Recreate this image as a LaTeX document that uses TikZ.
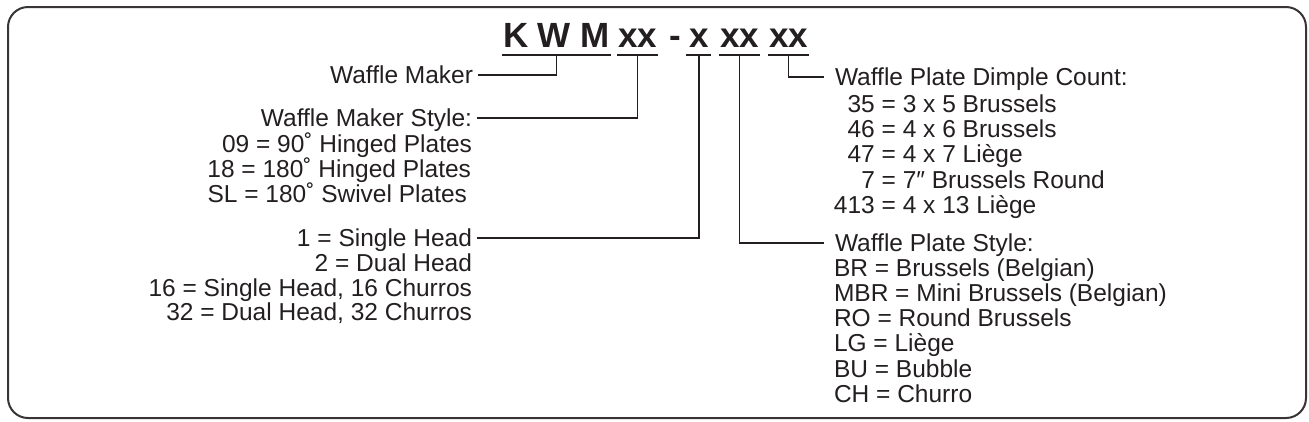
\documentclass[tikz,border=0pt]{standalone}
\usepackage{fontspec}
\setmainfont{Liberation Sans}
\definecolor{ink}{HTML}{231F20}
\newcommand\dnum[1]{\makebox[1.668em][r]{#1}}
\begin{document}
\begin{tikzpicture}[x=1pt,y=-1pt,
  every node/.style={inner sep=0pt, outer sep=0pt, text=ink, font=\fontsize{24.5}{25}\selectfont},
  title/.style={font=\bfseries\fontsize{35}{35}\selectfont, anchor=base west},
  conn/.style={draw=ink, line width=1.9pt},
  lhead/.style={inner xsep=5pt, text height=17.5pt, text depth=0pt, anchor=east},
  rhead/.style={inner xsep=11pt, text height=17.5pt, text depth=0pt, anchor=west},
  litem/.style={anchor=base east},
  ritem/.style={anchor=base west}]
\useasboundingbox (0,0) rectangle (1309,421);
\draw[draw=ink!90, line width=2pt, rounded corners=20pt] (8,7) rectangle (1306,418);
% title
\node[title] (kwm) at (503,47) {K W M};
\node[title] (xxa) at (618,47) {xx};
\node[title] (dash) at (669,47) {-};
\node[title] (xb) at (689,47) {x};
\node[title] (xxc) at (720,47) {xx};
\node[title] (xxd) at (769,47) {xx};
\foreach \n/\p in {kwm/1,xxa/1,xb/3,xxc/1,xxd/1}
  \draw[conn] ([xshift=-\p pt,yshift=-8pt]\n.base west) -- ([xshift=\p pt,yshift=-8pt]\n.base east);
% left labels
\node[lhead] (wm) at (478,75) {Waffle Maker};
\node[lhead] (wms) at (477,118) {Waffle Maker Style:};
\node[litem] (wms1) at (472,152) {09 = 90˚ Hinged Plates};
\node[litem] (wms2) at (471,177) {18 = 180˚ Hinged Plates};
\node[litem] (wms3) at (467,202) {SL = 180˚ Swivel Plates};
\node[lhead] (hd) at (477,238) {1 = Single Head};
\node[litem] (hd2) at (472,271) {2 = Dual Head};
\node[litem] (hd3) at (472,296) {16 = Single Head, 16 Churros};
\node[litem] (hd4) at (472,320) {32 = Dual Head, 32 Churros};
% right labels
\node[rhead] (dc) at (824,77) {Waffle Plate Dimple Count:};
\node[ritem] (dc1) at (834,112) {\dnum{35} = 3 x 5 Brussels};
\node[ritem] (dc2) at (834,137) {\dnum{46} = 4 x 6 Brussels};
\node[ritem] (dc3) at (834,162) {\dnum{47} = 4 x 7 Liège};
\node[ritem] (dc4) at (834,188) {\dnum{7} = 7″ Brussels Round};
\node[ritem] (dc5) at (834,213) {\dnum{413} = 4 x 13 Liège};
\node[rhead] (ps) at (824,243) {Waffle Plate Style:};
\node[ritem] (ps1) at (834,276) {BR = Brussels (Belgian)};
\node[ritem] (ps2) at (834,301) {MBR = Mini Brussels (Belgian)};
\node[ritem] (ps3) at (834,326) {RO = Round Brussels};
\node[ritem] (ps4) at (834,351) {LG = Liège};
\node[ritem] (ps5) at (834,377) {BU = Bubble};
\node[ritem] (ps6) at (834,402) {CH = Churro};
% connectors
\draw[conn] ([yshift=-8pt]kwm.base) |- (wm.east);
\draw[conn] ([yshift=-8pt]xxa.base) |- (wms.east);
\draw[conn] ([yshift=-8pt]xb.base) |- (hd.east);
\draw[conn] ([yshift=-8pt]xxc.base) |- (ps.west);
\draw[conn] ([yshift=-8pt]xxd.base) |- (dc.west);
\end{tikzpicture}
\end{document}
